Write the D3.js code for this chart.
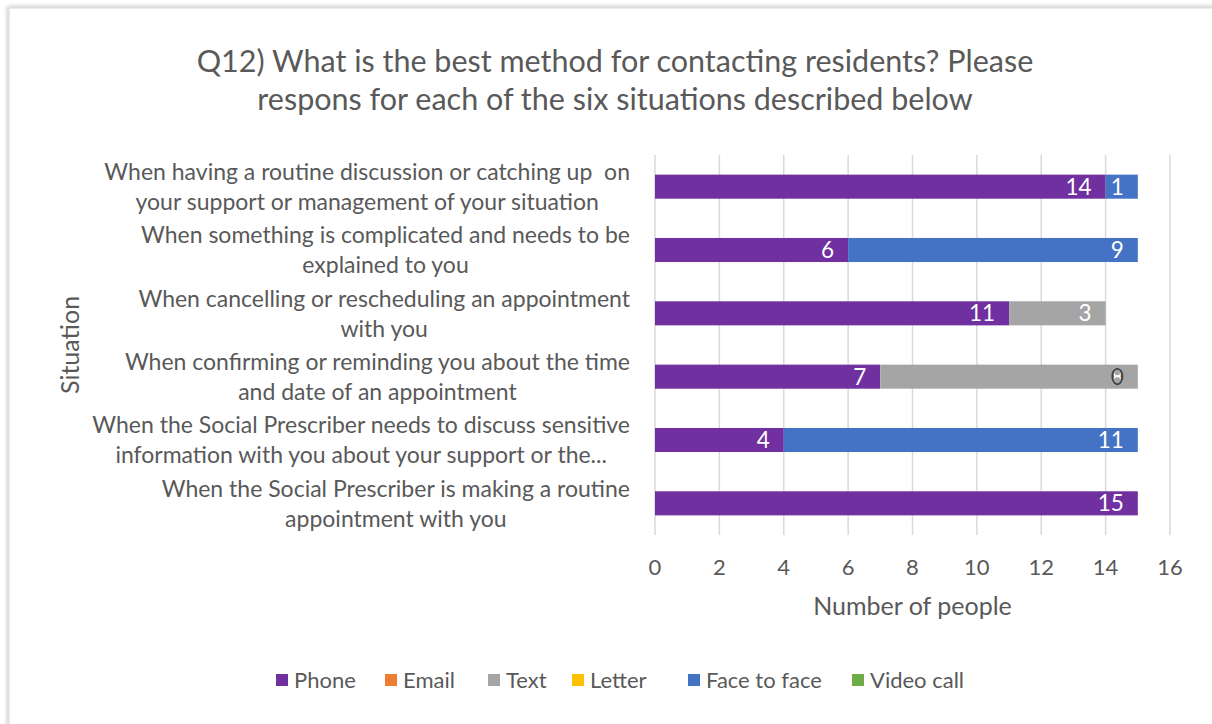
<!DOCTYPE html>
<head>
  <meta charset="utf-8">
  <script src="https://d3js.org/d3.v7.min.js"></script>
  <style>
    body { margin: 0; background: #fff; }
    text { font-family: Lato, "Open Sans", sans-serif; fill: #595959; }
    .cat { white-space: pre; }
  </style>
</head>
<body>
  <div id="graph"></div>
  <script>
    var width = 1212;
    var height = 724;

    // Data
    var titleLines = ["Q12) What is the best method for contacting residents? Please",
      "respons for each of the six situations described below"];
    var situations = [
      ["When having a routine discussion or catching up  on", "your support or management of your situation"],
      ["When something is complicated and needs to be", "explained to you"],
      ["When cancelling or rescheduling an appointment", "with you"],
      ["When confirming or reminding you about the time", "and date of an appointment"],
      ["When the Social Prescriber needs to discuss sensitive", "information with you about your support or the..."],
      ["When the Social Prescriber is making a routine", "appointment with you"]
    ];
    var seriesNames = ["Phone", "Email", "Text", "Letter", "Face to face", "Video call"];
    var seriesColors = ["#7030a0", "#ed7d31", "#a5a5a5", "#ffc000", "#4472c4", "#70ad47"];
    // null = no value / no label, 0 = zero with label shown
    var phone = [14, 6, 11, 7, 4, 15];
    var email = [null, null, null, null, null, null];
    var text = [null, null, 3, 8, null, null];
    var letter = [null, null, null, 0, null, null];
    var faceToFace = [1, 9, null, null, 11, null];
    var videoCall = [null, null, null, null, null, null];
    var xTicks = [0, 2, 4, 6, 8, 10, 12, 14, 16];

    var series = [phone, email, text, letter, faceToFace, videoCall];

    var svg = d3.select("#graph").append("svg")
      .attr("width", width)
      .attr("height", height);

    // card with shadow
    var defs = svg.append("defs");
    var f = defs.append("filter").attr("id", "shadow")
      .attr("x", "-5%").attr("y", "-5%").attr("width", "110%").attr("height", "110%");
    f.append("feGaussianBlur").attr("in", "SourceAlpha").attr("stdDeviation", 2);
    f.append("feOffset").attr("dx", -1).attr("dy", -1).attr("result", "b");
    f.append("feFlood").attr("flood-color", "#000").attr("flood-opacity", 0.25);
    f.append("feComposite").attr("in2", "b").attr("operator", "in");
    var m = f.append("feMerge");
    m.append("feMergeNode");
    m.append("feMergeNode").attr("in", "SourceGraphic");

    svg.append("rect")
      .attr("x", 9).attr("y", 8)
      .attr("width", width + 20).attr("height", height + 20)
      .attr("fill", "#fff")
      .attr("stroke", "#d9d9d9")
      .attr("filter", "url(#shadow)");

    var xmin = 655, xmax = 1170;
    var ymin = 155, ymax = 535;

    var x = d3.scaleLinear().domain([0, 16]).range([xmin, xmax]);
    var y = d3.scaleBand()
      .domain(d3.range(situations.length))
      .range([ymin, ymax])
      .paddingInner(0.62)
      .paddingOuter(0.31);

    // title
    svg.append("g").selectAll("text")
      .data(titleLines).enter()
      .append("text")
      .attr("x", 615)
      .attr("y", (d, i) => 72 + i * 38)
      .attr("text-anchor", "middle")
      .style("font-size", "30.5px")
      .text(d => d);

    // gridlines
    svg.append("g").selectAll("line")
      .data(xTicks).enter()
      .append("line")
      .attr("x1", d => x(d)).attr("x2", d => x(d))
      .attr("y1", ymin).attr("y2", ymax)
      .attr("stroke", "#d9d9d9")
      .attr("stroke-width", 1.5);

    // stacked bars
    var gBars = svg.append("g");
    var labels = [];
    situations.forEach(function(s, r) {
      var acc = 0;
      series.forEach(function(vals, k) {
        var v = vals[r];
        if (v === null) return;
        gBars.append("rect")
          .attr("x", x(acc))
          .attr("y", y(r))
          .attr("width", x(acc + v) - x(acc))
          .attr("height", y.bandwidth())
          .attr("fill", seriesColors[k]);
        acc += v;
        labels.push({ r: r, k: k, v: v, end: acc });
      });
    });

    // data labels (inside end)
    svg.append("g").selectAll("text")
      .data(labels).enter()
      .append("text")
      .attr("x", d => x(d.end) - 14)
      .attr("y", d => y(d.r) + y.bandwidth() / 2)
      .attr("dy", "0.36em")
      .attr("text-anchor", "end")
      .style("font-size", "22.5px")
      .style("fill", d => d.v === 0 ? "#404040" : "#fff")
      .text(d => d.v);

    // category labels, centred blocks right-aligned to the axis
    var gCat = svg.append("g");
    situations.forEach(function(lines, r) {
      var cy = y(r) + y.bandwidth() / 2;
      var g = gCat.append("g");
      var ts = g.selectAll("text").data(lines).enter()
        .append("text")
        .attr("class", "cat")
        .attr("y", (d, i) => cy + (i - 0.5) * 30)
        .attr("dy", "0.36em")
        .attr("text-anchor", "middle")
        .style("font-size", "23px")
        .text(d => d);
      var w = d3.max(ts.nodes(), n => n.getComputedTextLength());
      ts.attr("x", 630 - w / 2);
    });

    // x axis tick labels
    svg.append("g").selectAll("text")
      .data(xTicks).enter()
      .append("text")
      .attr("x", d => x(d))
      .attr("y", 567)
      .attr("dy", "0.36em")
      .attr("text-anchor", "middle")
      .style("font-size", "22px")
      .text(d => d);

    // axis titles
    svg.append("text")
      .attr("x", (xmin + xmax) / 2)
      .attr("y", 606)
      .attr("dy", "0.36em")
      .attr("text-anchor", "middle")
      .style("font-size", "25px")
      .text("Number of people");

    svg.append("text")
      .attr("transform", "translate(70," + ((ymin + ymax) / 2) + ") rotate(-90)")
      .attr("dy", "0.36em")
      .attr("text-anchor", "middle")
      .style("font-size", "25px")
      .text("Situation");

    // legend
    var legendX = [276, 385, 488, 572, 688, 852];
    var gLeg = svg.append("g").selectAll("g")
      .data(seriesNames).enter()
      .append("g")
      .attr("transform", (d, i) => "translate(" + legendX[i] + ",680)");
    gLeg.append("rect")
      .attr("x", 0).attr("y", -6)
      .attr("width", 12).attr("height", 12)
      .attr("fill", (d, i) => seriesColors[i]);
    gLeg.append("text")
      .attr("x", 18)
      .attr("dy", "0.36em")
      .style("font-size", "22px")
      .text(d => d);
  </script>
</body>
